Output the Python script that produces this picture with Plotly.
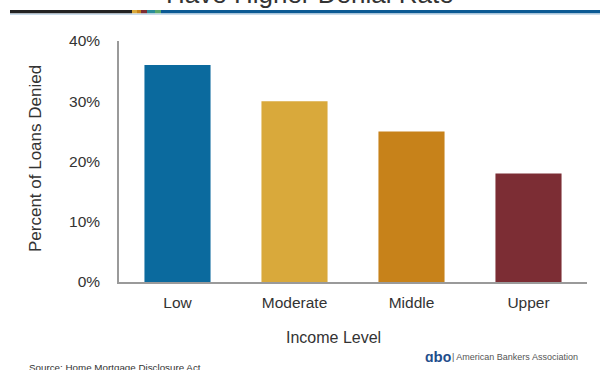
import plotly.graph_objects as go

categories = ["Low", "Moderate", "Middle", "Upper"]
denial_pct = [36, 30, 25, 18]
bar_colors = ["#0B6A9E", "#D9A93B", "#C7821A", "#7C2D34"]
y_ticks = [0, 10, 20, 30, 40]
y_tick_labels = ["0%", "10%", "20%", "30%", "40%"]

W, H = 600, 370
L, R, T, B = 119, 13, 41, 88
pw, ph = W - L - R, H - T - B

def px(x):
    return (x - L) / pw

def py(y):
    return 1 - (y - T) / ph

fig = go.Figure(go.Bar(
    x=categories, y=denial_pct, marker_color=bar_colors,
    marker_line_width=0, width=0.565,
))

font = "Liberation Sans, Arial, sans-serif"
fig.update_layout(
    width=W, height=H, margin=dict(l=L, r=R, t=T, b=B),
    paper_bgcolor="white", plot_bgcolor="white", showlegend=False,
    font=dict(family=font, color="#333333"),
    xaxis=dict(showline=True, linecolor="#9a9a9a", linewidth=1.5, ticks="",
               tickfont=dict(size=15.5, color="#333333"), ticklabelstandoff=6,
               showgrid=False, range=[-0.5, 3.5]),
    yaxis=dict(showline=True, linecolor="#9a9a9a", linewidth=1.5, ticks="",
               range=[0, 40], tickvals=y_ticks, ticktext=y_tick_labels,
               tickfont=dict(size=15.5, color="#333333"), ticklabelstandoff=14,
               showgrid=False, zeroline=False),
)

ann = [
    dict(text="Percent of Loans Denied", x=px(35), y=py(159), textangle=-90,
         font=dict(size=17, color="#333333")),
    dict(text="Income Level", x=px(333), y=py(337), font=dict(size=16, color="#333333")),
    dict(text="Source: Home Mortgage Disclosure Act", x=px(27), y=py(367),
         xanchor="left", font=dict(size=9.8, color="#333333")),
    dict(text="<b>ɑ<span style='font-size:15px'>b</span>o</b>", x=px(438), y=py(356),
         font=dict(size=14, color="#1F4E8C")),
    dict(text="| American Bankers Association", x=px(450), y=py(357), xanchor="left",
         font=dict(size=9, color="#555555")),
    dict(text="Have Higher Denial Rate", x=px(310), y=py(-6),
         font=dict(size=26, color="#333333")),
]
for a in ann:
    a.setdefault("xref", "paper")
    a.setdefault("yref", "paper")
    a.setdefault("xanchor", "center")
    a.setdefault("yanchor", "middle")
    a.setdefault("showarrow", False)
    fig.add_annotation(**a)

stripes = [
    (10, 132, "#222222"), (132, 137, "#D9A93B"), (137, 141, "#C7821A"),
    (141, 147, "#7C2D34"), (147, 155, "#2A8C9A"), (155, 161, "#5BA86B"),
    (161, 600, "#0B5A94"),
]
for x0, x1, c in stripes:
    fig.add_shape(type="rect", xref="paper", yref="paper",
                  x0=px(x0), x1=px(x1), y0=py(13.5), y1=py(10),
                  fillcolor=c, line_width=0, layer="above")
fig.add_shape(type="rect", xref="paper", yref="paper",
              x0=px(10), x1=px(600), y0=py(15), y1=py(13.5),
              fillcolor="#C9DCEB", line_width=0)

fig.write_html("out.html")
